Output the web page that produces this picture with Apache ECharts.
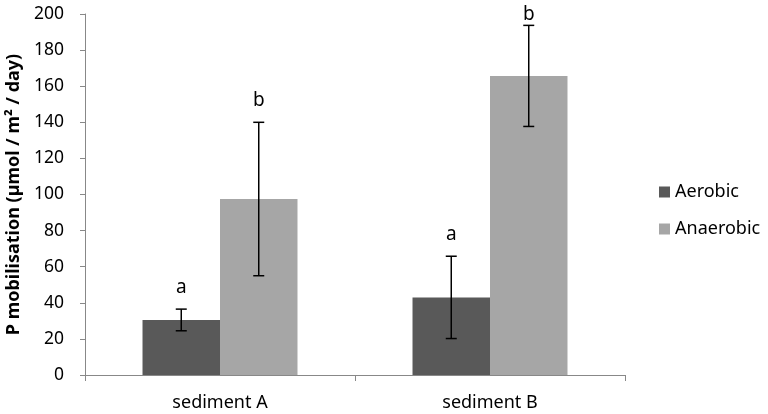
<!DOCTYPE html>
<html><head><meta charset="utf-8">
<script src="https://cdn.jsdelivr.net/npm/echarts@6/dist/echarts.min.js"></script>
<style>html,body{margin:0;padding:0;background:#fff}#c{width:768px;height:414px}</style>
</head><body><div id="c"></div>
<script>
var categories = ['sediment A', 'sediment B'];
var seriesNames = ['Aerobic', 'Anaerobic'];
var aerobic = [30.5, 43];
var anaerobic = [97.5, 165.7];
var aerobicErr = [6, 22.8];
var anaerobicErr = [42.5, 28];
var aerobicLetters = ['a', 'a'];
var anaerobicLetters = ['b', 'b'];
var yTicks = [0, 20, 40, 60, 80, 100, 120, 140, 160, 180, 200];

var GAP = 0.426;
var FONT = 'Noto Sans, DejaVu Sans, sans-serif';
function errSeries(vals, errs, letters, idx) {
  return {
    type: 'custom',
    name: seriesNames[idx] + ' err',
    z: 10,
    silent: true,
    data: vals.map(function (v, i) { return [i, v - errs[i], v + errs[i]]; }),
    renderItem: function (params, api) {
      var i = api.value(0);
      var band = api.size([1, 0])[0];
      var bw = band * (1 - GAP) / 2;
      var off = (idx === 0 ? -0.5 : 0.5) * bw;
      var lo = api.coord([i, api.value(1)]);
      var hi = api.coord([i, api.value(2)]);
      var x = lo[0] + off;
      var cap = 5.5;
      var st = { stroke: '#000', lineWidth: 1.5 };
      var ty = Math.max(hi[1] - 22, 15);
      return { type: 'group', children: [
        { type: 'line', shape: { x1: x, y1: lo[1], x2: x, y2: hi[1] }, style: st },
        { type: 'line', shape: { x1: x - cap, y1: lo[1], x2: x + cap, y2: lo[1] }, style: st },
        { type: 'line', shape: { x1: x - cap, y1: hi[1], x2: x + cap, y2: hi[1] }, style: st },
        { type: 'text', x: x, y: ty, style: { text: letters[params.dataIndex], fill: '#000', font: '19px ' + FONT, align: 'center', verticalAlign: 'middle' } }
      ] };
    }
  };
}

var chart = echarts.init(document.getElementById('c'));
chart.setOption({
  animation: false,
  backgroundColor: '#fff',
  grid: { left: 85, right: 143, top: 14, bottom: 39, containLabel: false, outerBoundsMode: 'none' },
  legend: {
    data: seriesNames, orient: 'vertical', left: 659, top: 183, padding: 0,
    itemWidth: 11, itemHeight: 11, itemGap: 19,
    icon: 'rect',
    textStyle: { fontSize: 18, fontFamily: FONT, color: '#000' }
  },
  xAxis: {
    type: 'category', data: categories,
    axisLine: { lineStyle: { color: '#888', width: 1 } },
    axisTick: { show: true, length: 6, lineStyle: { color: '#888' } },
    axisLabel: { color: '#000', fontSize: 18, fontFamily: FONT, margin: 19 }
  },
  yAxis: {
    type: 'value', min: 0, max: 200, interval: 20,
    name: 'P mobilisation (µmol / m² / day)', nameLocation: 'middle', nameGap: 60,
    nameTextStyle: { fontSize: 18, fontWeight: 'bold', fontFamily: FONT, color: '#000' },
    axisLine: { show: true, lineStyle: { color: '#888' } },
    axisTick: { show: true, length: 5, lineStyle: { color: '#888' } },
    splitLine: { show: false },
    axisLabel: { color: '#000', fontSize: 17.5, fontFamily: FONT, margin: 21,
      formatter: function (v) { return yTicks.indexOf(v) >= 0 ? String(v) : ''; } }
  },
  series: [
    { type: 'bar', name: seriesNames[0], data: aerobic, itemStyle: { color: '#595959' }, barGap: '0%', barCategoryGap: (GAP * 100) + '%' },
    { type: 'bar', name: seriesNames[1], data: anaerobic, itemStyle: { color: '#a6a6a6' }, barGap: '0%', barCategoryGap: (GAP * 100) + '%' },
    errSeries(aerobic, aerobicErr, aerobicLetters, 0),
    errSeries(anaerobic, anaerobicErr, anaerobicLetters, 1)
  ]
});
</script></body></html>
